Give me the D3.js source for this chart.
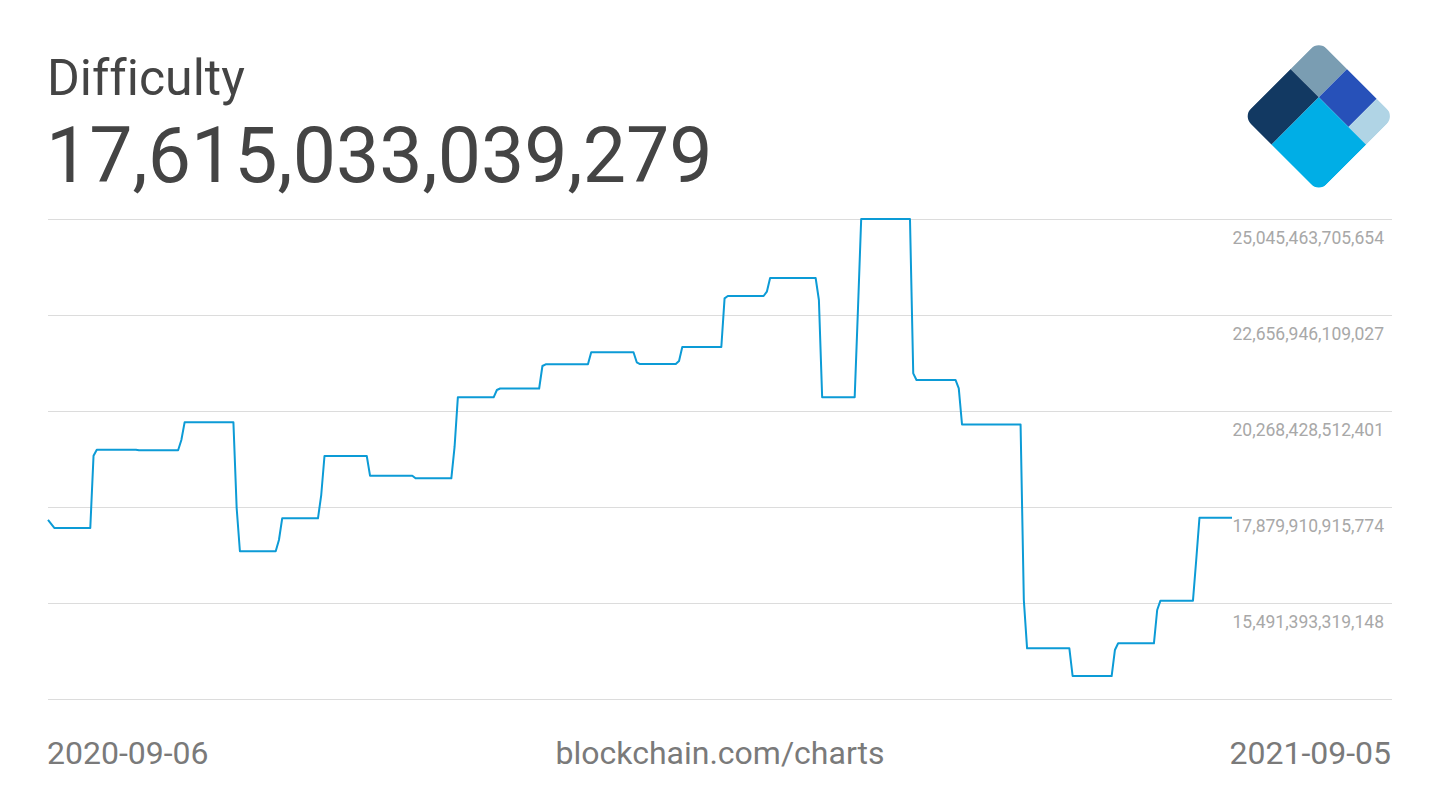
<!DOCTYPE html>
<html>
<head>
<meta charset="utf-8">
<script src="https://cdn.jsdelivr.net/npm/d3@7.9.0/dist/d3.min.js"></script>
<style>
  html, body { margin: 0; padding: 0; background: #fff; }
  svg { display: block; font-family: Roboto, "Noto Sans", sans-serif; font-variant-ligatures: none; }
</style>
</head>
<body>
<div id="chart"></div>
<script>
// difficulty (corner points of the stepped line)
const dates = [
  '2020-09-06', '2020-09-08', '2020-09-19', '2020-09-20', '2020-09-21',
  '2020-10-03', '2020-10-04', '2020-10-16', '2020-10-17', '2020-10-18',
  '2020-11-02', '2020-11-03', '2020-11-04', '2020-11-15', '2020-11-16',
  '2020-11-17', '2020-11-28', '2020-11-29', '2020-11-30', '2020-12-13',
  '2020-12-14', '2020-12-27', '2020-12-28', '2021-01-08', '2021-01-09',
  '2021-01-10', '2021-01-21', '2021-01-22', '2021-01-23', '2021-02-04',
  '2021-02-05', '2021-02-06', '2021-02-19', '2021-02-20', '2021-03-05',
  '2021-03-06', '2021-03-07', '2021-03-18', '2021-03-19', '2021-03-20',
  '2021-04-01', '2021-04-02', '2021-04-03', '2021-04-14', '2021-04-15',
  '2021-04-16', '2021-04-30', '2021-05-01', '2021-05-02', '2021-05-12',
  '2021-05-13', '2021-05-14', '2021-05-29', '2021-05-30', '2021-05-31',
  '2021-06-12', '2021-06-13', '2021-06-14', '2021-07-02', '2021-07-03',
  '2021-07-04', '2021-07-17', '2021-07-18', '2021-07-30', '2021-07-31',
  '2021-08-01', '2021-08-12', '2021-08-13', '2021-08-14', '2021-08-24',
  '2021-08-25', '2021-08-26', '2021-09-05'
];

// in trillions
const difficulty = [
  17.557, 17.357, 17.357, 19.156, 19.306,
  19.306, 19.291, 19.291, 19.547, 19.987,
  19.987, 17.855, 16.778, 16.778, 17.059,
  17.599, 17.599, 18.178, 19.149, 19.149,
  18.659, 18.659, 18.594, 18.594, 19.380,
  20.609, 20.609, 20.791, 20.828, 20.828,
  21.388, 21.430, 21.430, 21.729, 21.729,
  21.480, 21.437, 21.437, 21.512, 21.861,
  21.861, 23.072, 23.130, 23.130, 23.237,
  23.578, 23.578, 23.030, 20.609, 20.609,
  22.781, 25.046, 25.046, 21.206, 21.040,
  21.040, 20.833, 19.933, 19.933, 15.566,
  14.364, 14.364, 13.675, 13.675, 14.322,
  14.489, 14.489, 15.317, 15.549, 15.549,
  16.561, 17.614, 17.614
];

const yTicks = [
  25045463705654, 22656946109027, 20268428512401,
  17879910915774, 15491393319148
];
const yMin = 13102875722521;

const title = 'Difficulty';
const currentValue = 17615033039279;
const startLabel = '2020-09-06';
const endLabel = '2021-09-05';
const sourceLabel = 'blockchain.com/charts';

const width = 1440;
const height = 810;
const fmt = d3.format(',d');

const parse = d3.utcParse('%Y-%m-%d');
const data = dates.map((d, i) => ({ date: parse(d), value: difficulty[i] * 1e12 }));

const svg = d3.select('#chart')
  .append('svg')
  .attr('width', width)
  .attr('height', height);

const xScale = d3.scaleUtc()
  .domain([parse(startLabel), parse(endLabel)])
  .range([48, 1232]);

const yScale = d3.scaleLinear()
  .domain([yMin, yTicks[0]])
  .range([699, 219]);

// gridlines
const grid = svg.append('g')
  .attr('class', 'gridlines')
  .attr('transform', 'translate(48, 0)')
  .call(d3.axisRight(yScale)
    .tickValues([...yTicks, yMin])
    .tickFormat('')
    .tickSize(1344));
grid.select('.domain').remove();
grid.selectAll('line')
  .attr('stroke', '#dcdcdc')
  .attr('shape-rendering', 'crispEdges');

// tick labels (sit below their gridline)
const labels = svg.append('g')
  .attr('transform', 'translate(1384, 0)')
  .call(d3.axisLeft(yScale)
    .tickValues(yTicks)
    .tickFormat(fmt)
    .tickSize(0)
    .tickPadding(0));
labels.select('.domain').remove();
labels.selectAll('text')
  .attr('dy', 24)
  .attr('fill', '#a8a8a8')
  .style('font-family', 'Roboto')
  .style('font-size', '17.5px');

// line
const line = d3.line()
  .x(d => xScale(d.date))
  .y(d => yScale(d.value));

svg.append('path')
  .datum(data)
  .attr('fill', 'none')
  .attr('stroke', '#0c9bd6')
  .attr('stroke-width', 2)
  .attr('stroke-linejoin', 'round')
  .attr('d', line);

// header
svg.append('text')
  .attr('x', 47)
  .attr('y', 95)
  .attr('fill', '#444')
  .style('font-size', '50px')
  .text(title);

svg.append('text')
  .attr('x', 46)
  .attr('y', 182)
  .attr('fill', '#444')
  .style('font-size', '77px')
  .text(fmt(currentValue));

// footer
const footer = svg.append('g')
  .attr('fill', '#7a7a7a')
  .style('font-size', '32px');

footer.append('text')
  .attr('x', 47)
  .attr('y', 764)
  .text(startLabel);

footer.append('text')
  .attr('x', 720)
  .attr('y', 764)
  .attr('text-anchor', 'middle')
  .text(sourceLabel);

footer.append('text')
  .attr('x', 1391)
  .attr('y', 764)
  .attr('text-anchor', 'end')
  .text(endLabel);

// logo: rounded square turned 45 degrees, split into five tiles
const logoSize = 107;
const logoCut = [40, 82];
const logoTiles = [
  { x0: 0, x1: logoCut[0], y0: 0, y1: logoCut[0], color: '#7a9db2' },
  { x0: logoCut[0], x1: logoCut[1], y0: 0, y1: logoCut[0], color: '#2751b9' },
  { x0: logoCut[1], x1: logoSize, y0: 0, y1: logoCut[0], color: '#b0d4e5' },
  { x0: 0, x1: logoCut[0], y0: logoCut[0], y1: logoSize, color: '#123962' },
  { x0: logoCut[0], x1: logoSize, y0: logoCut[0], y1: logoSize, color: '#00aee6' }
];

const defs = svg.append('defs');
defs.append('clipPath')
  .attr('id', 'logo-clip')
  .append('rect')
  .attr('width', logoSize)
  .attr('height', logoSize)
  .attr('rx', 11);

const logo = svg.append('g')
  .attr('transform', 'translate(1318.8, 40.7) rotate(45)')
  .attr('clip-path', 'url(#logo-clip)');

logo.selectAll('rect')
  .data(logoTiles)
  .join('rect')
  .attr('x', d => d.x0)
  .attr('y', d => d.y0)
  .attr('width', d => d.x1 - d.x0)
  .attr('height', d => d.y1 - d.y0)
  .attr('fill', d => d.color);
</script>
</body>
</html>
